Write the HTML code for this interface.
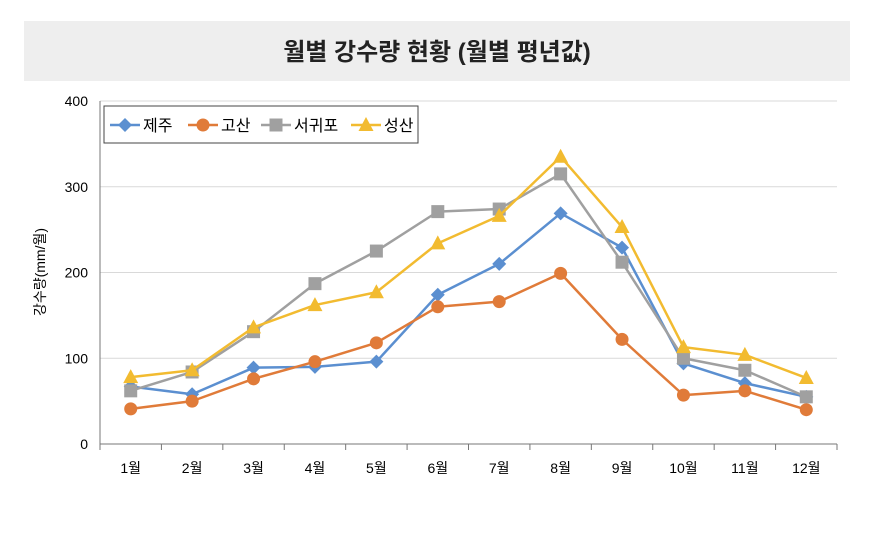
<!DOCTYPE html>
<html><head><meta charset="utf-8"><style>
body{margin:0;background:#fff;width:870px;height:540px;overflow:hidden;font-family:"Liberation Sans","Noto Sans CJK KR",sans-serif}
</style></head><body>
<svg id="c" width="870" height="540" style="font-family:'Liberation Sans','Noto Sans CJK KR',sans-serif">
<rect x="24" y="21" width="826" height="60" fill="#eeeeee"/>
<text x="437" y="60" text-anchor="middle" font-size="24" font-weight="bold" fill="#222">월별 강수량 현황 (월별 평년값)</text>
<g id="grid"></g><g id="series"></g>
<text transform="translate(45,272) rotate(-90)" text-anchor="middle" font-size="14" fill="#000">강수량(mm/월)</text>
<g>
<rect x="104" y="106" width="314" height="37" fill="#fff" stroke="#444" stroke-width="1"/>
<g id="legend"></g></g>
</svg>
<script>
const categories=["1월","2월","3월","4월","5월","6월","7월","8월","9월","10월","11월","12월"];
const yTicks=[0,100,200,300,400];
const seriesNames=["제주","고산","서귀포","성산"];
const jeju=[67,58,89,90,96,174,210,269,229,94,71,55];
const gosan=[41,50,76,96,118,160,166,199,122,57,62,40];
const seogwipo=[62,84,131,187,225,271,274,315,212,100,86,55];
const seongsan=[78,86,136,162,177,234,266,335,253,113,104,77];
const colors=["#5b8fd0","#e07b39","#a0a0a0","#f2bb30"];
const NS="http://www.w3.org/2000/svg";
const x0=100,x1=837,y0=444,y1=101;
const step=(x1-x0)/categories.length;
const xs=i=>x0+step*(i+0.5);
const ys=v=>y0-(v/400)*(y0-y1);
function mk(t,a,p){const e=document.createElementNS(NS,t);for(const k in a)e.setAttribute(k,a[k]);p.appendChild(e);return e;}
const g=document.getElementById('grid');
yTicks.forEach(v=>{
 const l=mk('line',{x1:x0,x2:x1,y1:ys(v),y2:ys(v),stroke:v===0?'#777':'#d9d9d9','stroke-width':1},g);
 
 
 const t=mk('text',{x:x0-12,y:ys(v)+5,'text-anchor':'end','font-size':14,fill:'#000'},g);t.textContent=v;
 
 
});
const ax=mk('line',{x1:x0,x2:x0,y1:y1,y2:y0,stroke:'#777'},g);


for(let i=0;i<=categories.length;i++){const tk=mk('line',{x1:x0+step*i,x2:x0+step*i,y1:y0,y2:y0+6,stroke:'#777'},g);
 
 }
categories.forEach((c,i)=>{const t=mk('text',{x:xs(i),y:473,'text-anchor':'middle','font-size':14,fill:'#000'},g);t.textContent=c;
 
 });
function marker(type,x,y,col,p){
 if(type===0)return mk('polygon',{points:`${x},${y-7} ${x+7},${y} ${x},${y+7} ${x-7},${y}`,fill:col},p);
 if(type===1)return mk('circle',{cx:x,cy:y,r:6.5,fill:col},p);
 if(type===2)return mk('rect',{x:x-6.5,y:y-6.5,width:13,height:13,fill:col},p);
 return mk('polygon',{points:`${x},${y-8} ${x+7.5},${y+6} ${x-7.5},${y+6}`,fill:col},p);
}
const sg=document.getElementById('series');
[jeju,gosan,seogwipo,seongsan].forEach((d,s)=>{
 const grp=mk('g',{},sg);
 
 
 mk('polyline',{points:d.map((v,i)=>xs(i)+','+ys(v)).join(' '),fill:'none',stroke:colors[s],'stroke-width':2.5,'stroke-linejoin':'round'},grp);
 d.forEach((v,i)=>{const m=marker(s,xs(i),ys(v),colors[s],grp);
  
  });
});
const lg=document.getElementById('legend');
const lx=[110,188,261,351];
seriesNames.forEach((n,s)=>{
 const e=mk('g',{},lg);
 
 
 mk('line',{x1:lx[s],x2:lx[s]+30,y1:125,y2:125,stroke:colors[s],'stroke-width':2.5},e);
 marker(s,lx[s]+15,125,colors[s],e);
 const t=mk('text',{x:lx[s]+33,y:131,'font-size':16,fill:'#000'},e);t.textContent=n;
});
</script>
</body></html>
